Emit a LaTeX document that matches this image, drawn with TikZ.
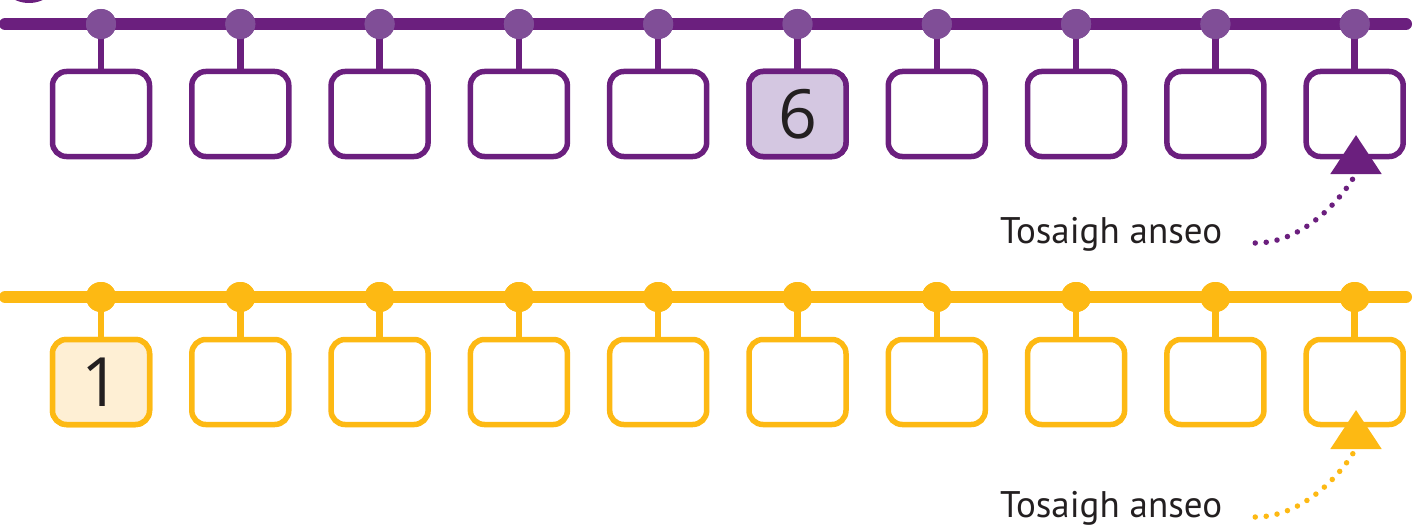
\documentclass[tikz,border=0pt]{standalone}
\usepackage{fontspec}
\setmainfont{PT Sans}
\newfontfamily\digitfont{Open Sans}
\usetikzlibrary{arrows.meta}
\definecolor{pline}{HTML}{6B1F7E}
\definecolor{pdot}{HTML}{804E97}
\definecolor{pfill}{HTML}{D4C7E1}
\definecolor{yline}{HTML}{FDB913}
\definecolor{yfill}{HTML}{FEEFD4}
\definecolor{txt}{HTML}{231F20}
\begin{document}
\begin{tikzpicture}[x=1pt,y=-1pt,
  rail/.style={line width=12pt,line cap=round},
  stem/.style={line width=6.5pt},
  slot/.style={draw,line width=5.5pt,rounded corners=14pt,minimum width=97pt,minimum height=85pt,
    inner sep=0pt,fill=white,text=txt,font=\digitfont\fontsize{68}{68}\selectfont},
  knob/.style={circle,inner sep=0pt,minimum size=30pt},
  lbl/.style={anchor=base west,inner sep=0pt,text=txt,font=\fontsize{37}{37}\selectfont},
  hint/.style={line width=5.5pt,line cap=round,dash pattern=on 0pt off 11pt,
    -{Triangle[width=50pt,length=39pt]}}]
\useasboundingbox (0,0) rectangle (1417,527);
% partial badge at top left
\fill[pline] (29,-30) circle[radius=33];
% rails
\coordinate (pl) at (5,24); \coordinate (pr) at (1406,24);
\coordinate (yl) at (5,297); \coordinate (yr) at (1406,297);
\draw[rail,pline] (pl) -- (pr);
\draw[rail,yline] (yl) -- (yr);
% top row
\foreach \i in {0,...,9}{
  \pgfmathsetmacro{\xx}{101+139.3*\i}
  \node[knob,fill=pdot] (pd\i) at (\xx,24) {};
  \node[slot,draw=pline] (pb\i) at (\xx,114) {};
  \draw[stem,pline] (pd\i.center) -- (pb\i.north);
  \node[knob,fill=pdot] at (pd\i) {};
}
\node[slot,draw=pline,fill=pfill] at (pb5) {\raisebox{-4pt}{6}};
% bottom row
\foreach \i in {0,...,9}{
  \pgfmathsetmacro{\xx}{101+139.3*\i}
  \node[knob,fill=yline] (yd\i) at (\xx,297) {};
  \node[slot,draw=yline] (yb\i) at (\xx,382) {};
  \draw[stem,yline] (yd\i.center) -- (yb\i.north);
  \node[knob,fill=yline] at (yd\i) {};
}
\node[slot,draw=yline,fill=yfill] at (yb0) {\raisebox{-4pt}{1}};
% labels and pointers
\node[lbl] (t1) at (1000,243) {Tosaigh anseo};
\node[lbl] (t2) at (1000,517) {Tosaigh anseo};
\coordinate (a1) at (1356,135);
\coordinate (a2) at (1356,410);
\draw[hint,pline] ([xshift=33pt]t1.base east) .. controls +(60,0) and +(0,41) .. (a1);
\draw[hint,yline] ([xshift=33pt]t2.base east) .. controls +(60,0) and +(0,41) .. (a2);
\end{tikzpicture}
\end{document}
